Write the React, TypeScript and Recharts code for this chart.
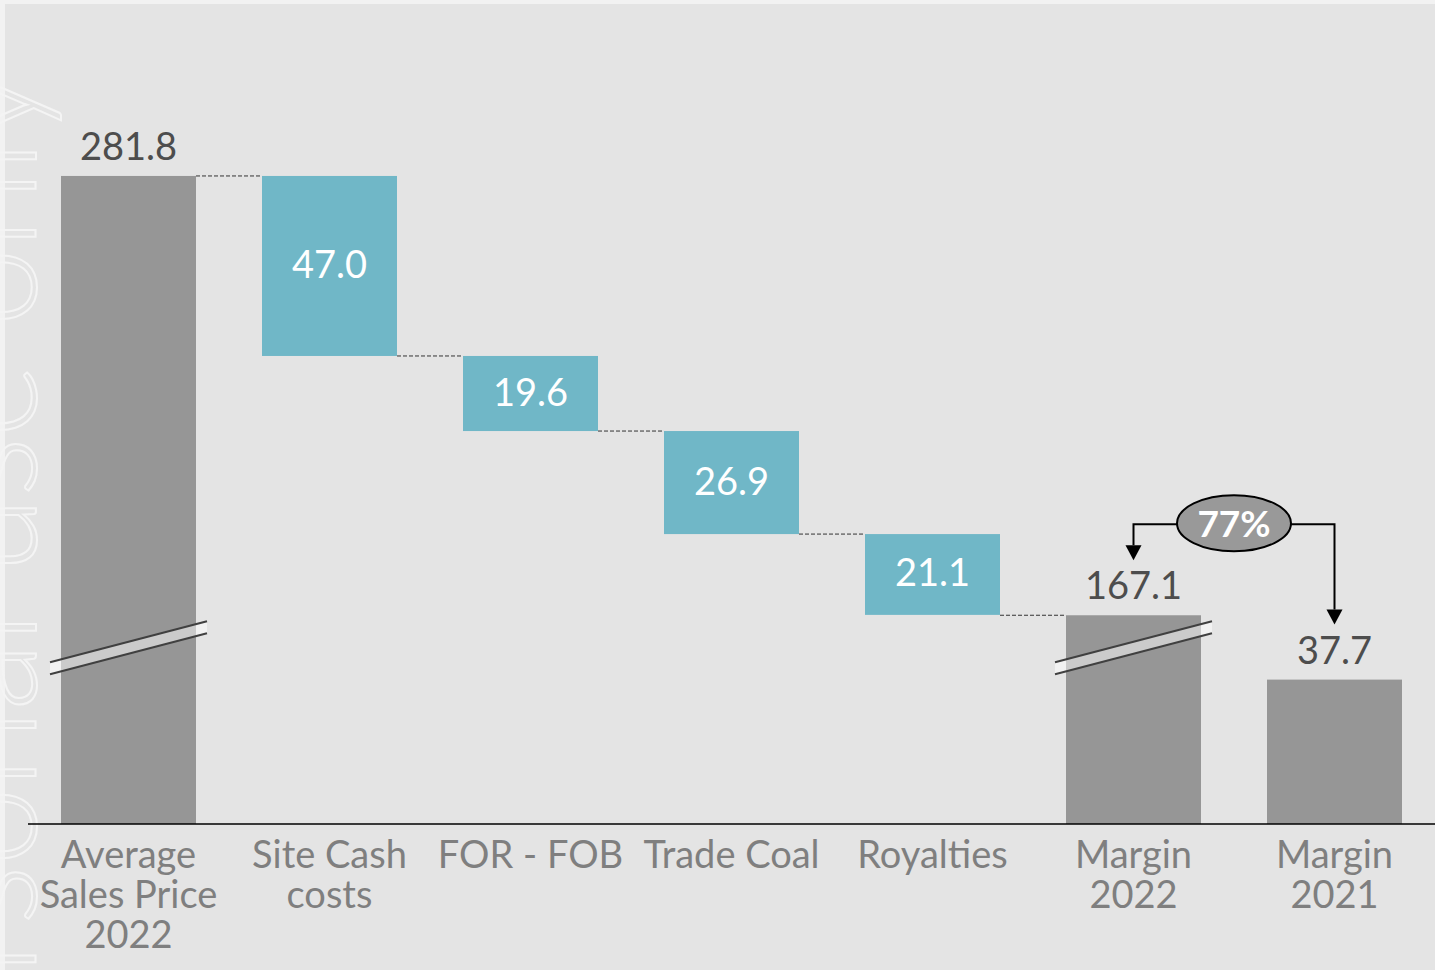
import { Bar, BarChart, XAxis, YAxis } from 'recharts';

const categories = [
  'Average\nSales Price\n2022',
  'Site Cash\ncosts',
  'FOR - FOB',
  'Trade Coal',
  'Royalties',
  'Margin\n2022',
  'Margin\n2021',
];
const values = [281.8, 47.0, 19.6, 26.9, 21.1, 167.1, 37.7];
const kinds = ['total', 'cost', 'cost', 'cost', 'cost', 'total', 'total'];
const broken = [true, false, false, false, false, true, false];
// value removed from the axis at the break, and where the break mark sits (axis units)
const AXIS_CUT = 112.6;
const BREAK_AT = 46;
const changeLabel = '77%';

const W = 1435;
const H = 970;
const MARGIN = { top: 58, right: 0, bottom: 46, left: 28 };
const BAR = 135;
const BAND = (W - MARGIN.left - MARGIN.right) / categories.length;

const GREY = '#969696';
const TEAL = '#70b7c7';
const FONT = 'Lato, "Open Sans", sans-serif';

// build floating ranges, shifting everything above the break down by AXIS_CUT
const shown = (v: number) => (v > AXIS_CUT ? v - AXIS_CUT : v);
let running = 0;
const data = categories.map((name, i) => {
  let low = 0;
  let high = 0;
  if (kinds[i] === 'total') {
    running = values[i];
    high = broken[i] ? values[i] - AXIS_CUT : values[i];
  } else {
    high = shown(running);
    running -= values[i];
    low = shown(running);
  }
  return { name, range: [low, high], value: values[i], kind: kinds[i], broken: broken[i], idx: i };
});

function Arrow({ x, y }: { x: number; y: number }) {
  return <polygon points={`${x - 8},${y - 15} ${x + 8},${y - 15} ${x},${y}`} fill="#000" />;
}

function StepShape(props: any) {
  const { x, y, width, height, payload } = props;
  const [low, high] = payload.range;
  const ppu = height / (high - low);
  const cx = x + width / 2;
  const isCost = payload.kind === 'cost';
  const gap = BAND - width;
  const out: JSX.Element[] = [];
  out.push(<rect key="r" x={x} y={y} width={width} height={height} fill={isCost ? TEAL : GREY} />);

  if (isCost || payload.idx === 5) {
    out.push(
      <line key="c" x1={x - gap} x2={x} y1={y} y2={y} stroke="#333" strokeWidth={1} strokeDasharray="4 2" />
    );
  }

  if (payload.broken) {
    const by = y + height - (BREAK_AT - low) * ppu;
    const x1 = x - 11;
    const x2 = x + width + 11;
    const dy = 20.5;
    const g = 6;
    out.push(
      <g key="b">
        <polygon
          points={`${x1},${by + dy - g} ${x2},${by - dy - g} ${x2},${by - dy + g} ${x1},${by + dy + g}`}
          fill="#fff"
          fillOpacity={0.5}
        />
        <line x1={x1} y1={by + dy - g} x2={x2} y2={by - dy - g} stroke="#404040" strokeWidth={2} />
        <line x1={x1} y1={by + dy + g} x2={x2} y2={by - dy + g} stroke="#404040" strokeWidth={2} />
      </g>
    );
  }

  if (isCost) {
    out.push(
      <text key="l" x={cx} y={y + height / 2 - 3} textAnchor="middle" dominantBaseline="central" fill="#fff" fontSize={38} fontFamily={FONT}>
        {payload.value.toFixed(1)}
      </text>
    );
  } else {
    out.push(
      <text key="l" x={cx} y={y - 16} textAnchor="middle" fill="#4d4d4d" fontSize={38} fontFamily={FONT}>
        {payload.value.toFixed(1)}
      </text>
    );
  }

  // change annotation between the two margins, drawn with the last bar
  if (payload.idx === categories.length - 1) {
    const prev = data[payload.idx - 1];
    const zero = y + height;
    const prevTop = zero - prev.range[1] * ppu;
    const prevX = cx - BAND;
    const ey = prevTop - 91;
    const ex = (prevX + cx) / 2;
    out.push(
      <g key="a">
        <polyline points={`${ex - 57},${ey} ${prevX},${ey} ${prevX},${prevTop - 70}`} fill="none" stroke="#000" strokeWidth={2} />
        <Arrow x={prevX} y={prevTop - 55} />
        <polyline points={`${ex + 57},${ey} ${cx},${ey} ${cx},${y - 70}`} fill="none" stroke="#000" strokeWidth={2} />
        <Arrow x={cx} y={y - 55} />
        <ellipse cx={ex} cy={ey - 1} rx={57} ry={28} fill="#999" stroke="#000" strokeWidth={2} />
        <text x={ex} y={ey - 2} textAnchor="middle" dominantBaseline="central" fill="#fff" fontSize={37} fontWeight={700} fontFamily={FONT}>
          {changeLabel}
        </text>
      </g>
    );
  }
  return <g>{out}</g>;
}

function CategoryTick(props: any) {
  const { x, y, payload } = props;
  const lines = String(payload.value).split('\n');
  return (
    <text x={x} y={y} textAnchor="middle" fill="#7f7f7f" fontSize={38} fontFamily={FONT}>
      {lines.map((ln, i) => (
        <tspan key={i} x={x} dy={i === 0 ? 36 : 40}>
          {ln}
        </tspan>
      ))}
    </text>
  );
}

export default function App() {
  return (
    <div style={{ position: 'absolute', left: 0, top: 0, width: W, height: H, background: '#f2f2f2', overflow: 'hidden' }}>
      <div style={{ position: 'absolute', left: 5, top: 4, right: 0, bottom: 0, background: '#e4e4e4' }} />
      <svg width={W} height={H} style={{ position: 'absolute', left: 0, top: 0 }}>
        <text
          transform="translate(36, 70) rotate(-90)"
          textAnchor="end"
          fontSize={140}
          fontFamily={FONT}
          fontWeight={300}
          fill="none"
          stroke="#f4f4f4"
          strokeWidth={2}
        >
          For personal use only
        </text>
      </svg>
      <div style={{ position: 'absolute', left: 0, top: 0 }}>
        <BarChart width={W} height={H} data={data} margin={MARGIN} barSize={BAR}>
          <XAxis
            dataKey="name"
            interval={0}
            tickLine={false}
            axisLine={{ stroke: '#000', strokeWidth: 1.5 }}
            tick={<CategoryTick />}
            height={100}
          />
          <YAxis hide domain={[0, 200]} />
          <Bar dataKey="range" shape={<StepShape />} isAnimationActive={false} />
        </BarChart>
      </div>
    </div>
  );
}
